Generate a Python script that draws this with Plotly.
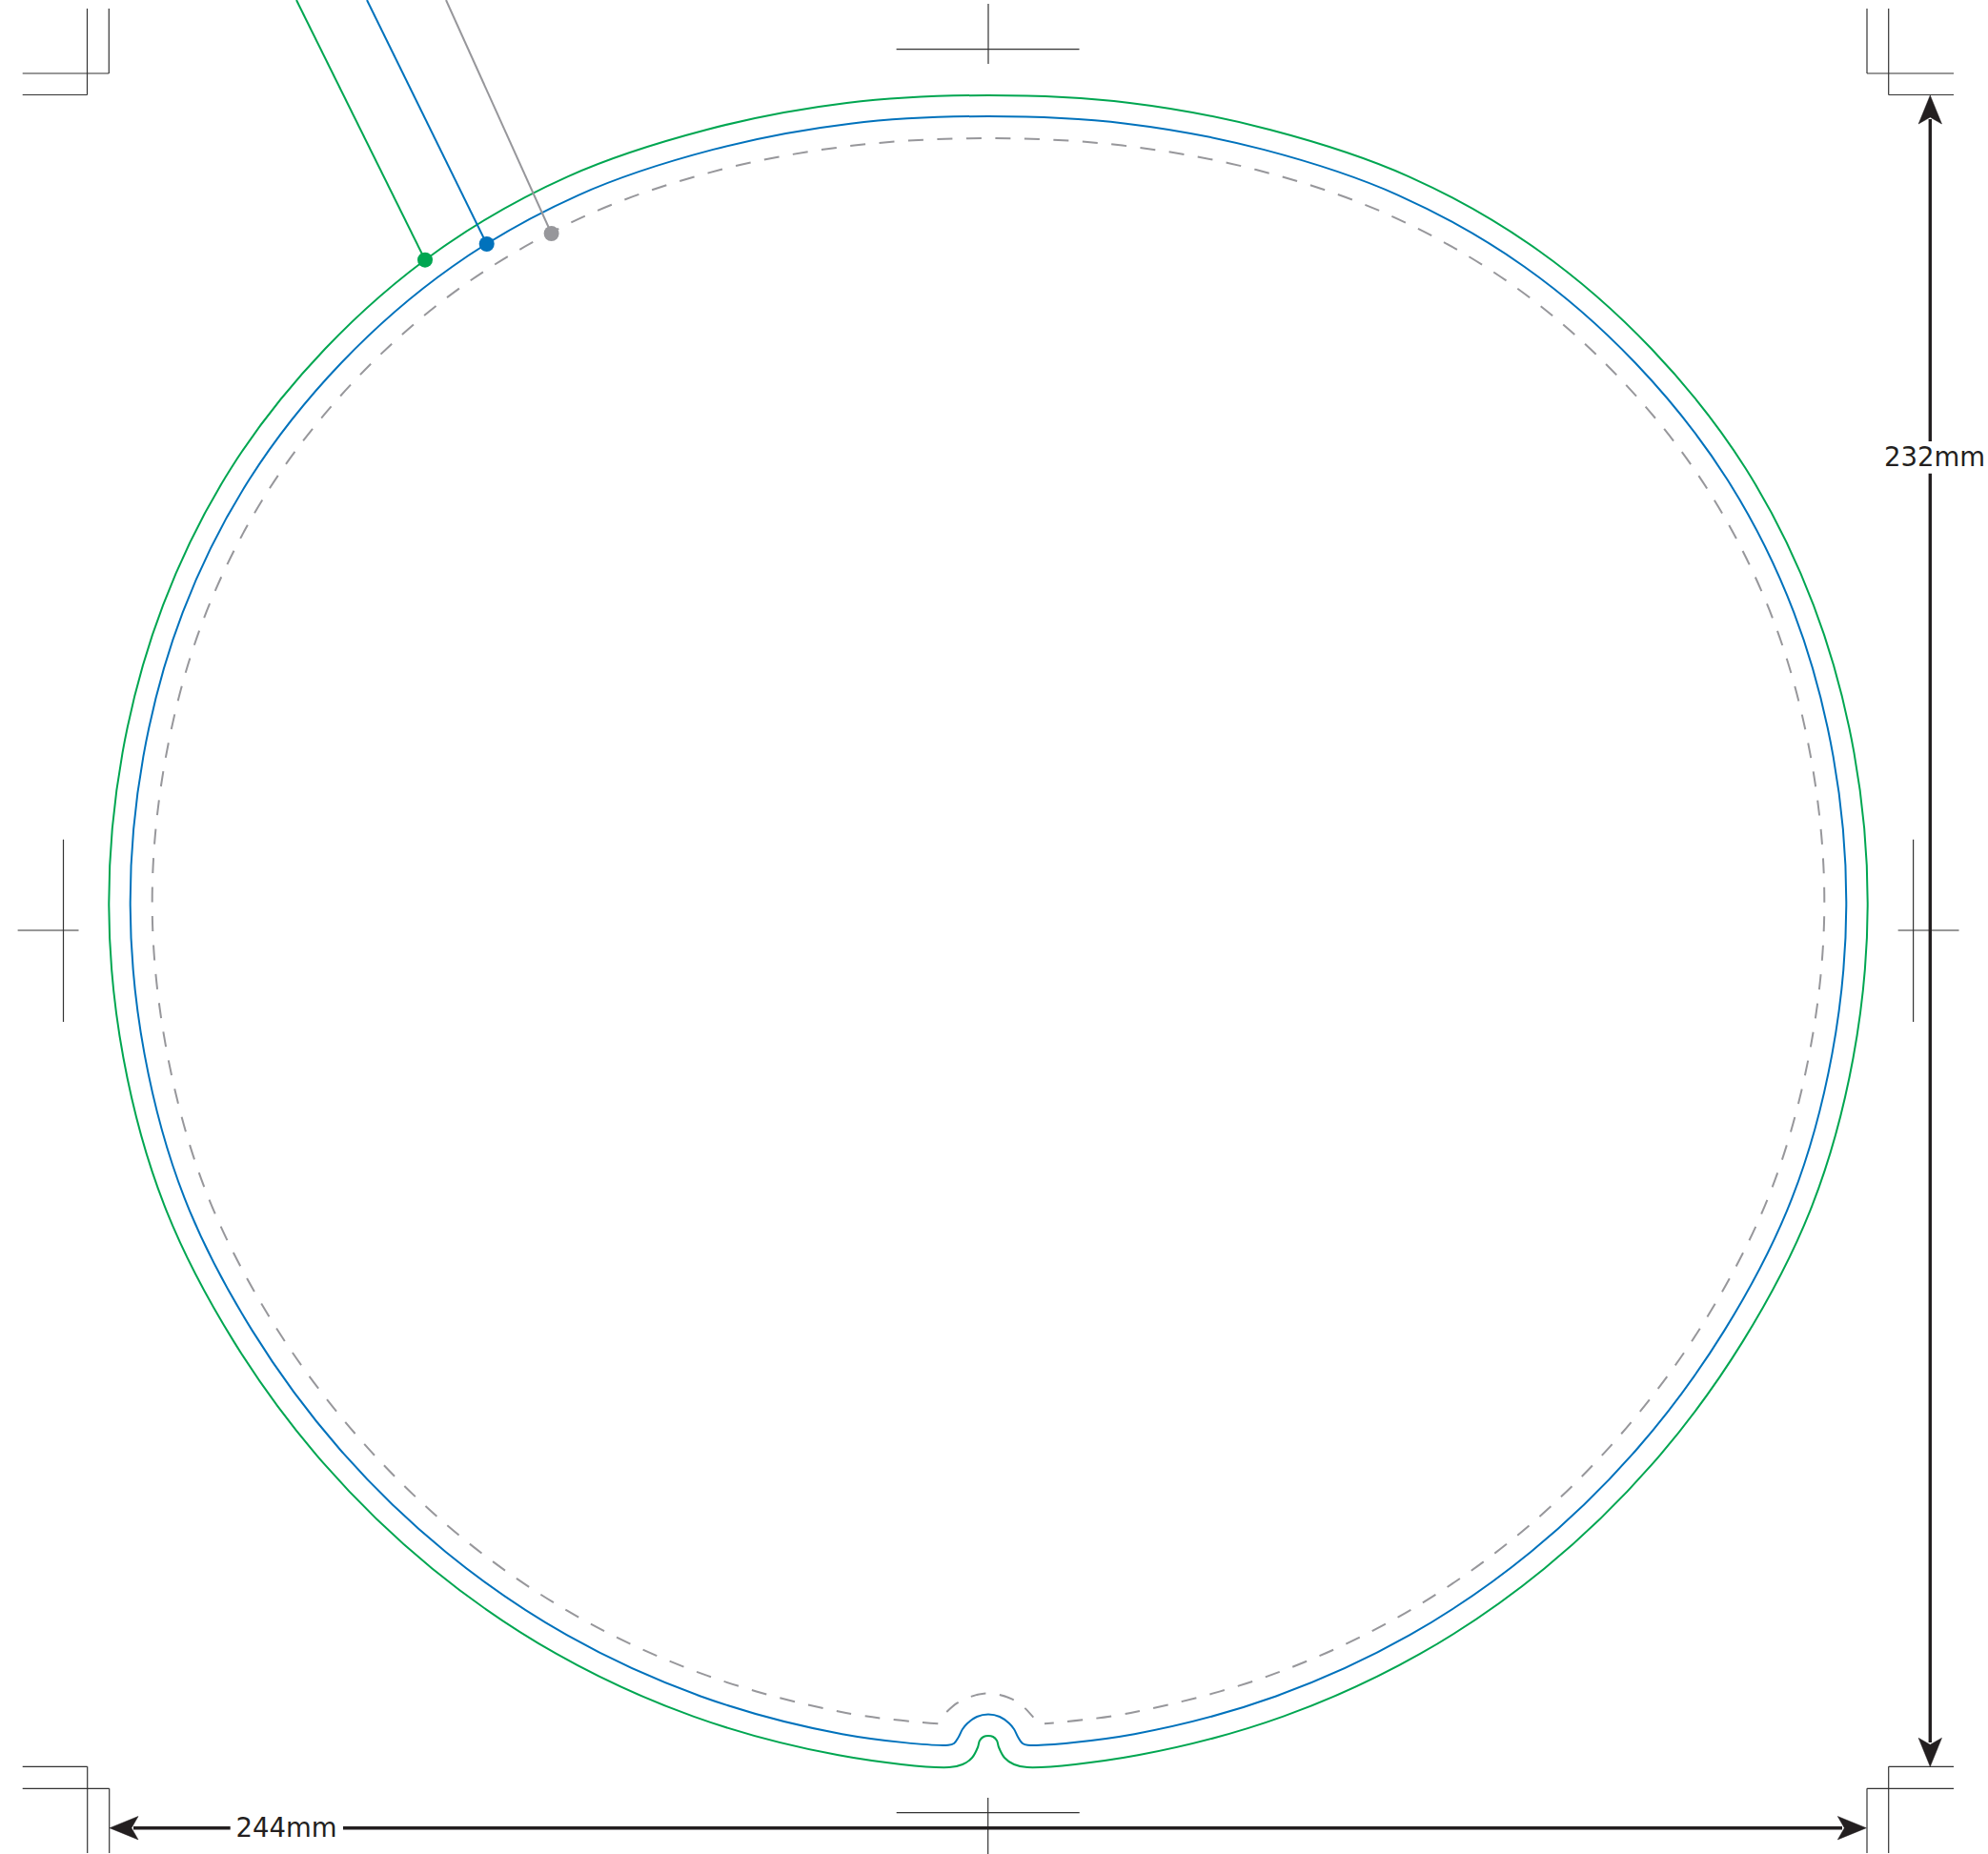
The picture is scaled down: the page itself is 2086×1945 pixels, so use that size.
import math
import plotly.graph_objects as go

# All lengths are drawing units of the sheet (1 mm = 7.555 units)
SHEET_W, SHEET_H = 2086, 1945
CENTER_X, CENTER_Y = 1037, 950

# Outlines read as radius at each bearing (degrees clockwise from the top of the disc),
# starting at the lower-left next to the notch and running clockwise round to the lower-right.
bearing_deg = [190, 200, 210, 220, 230, 240, 250, 260, 270, 280, 290, 300, 310, 320, 330, 340, 350, 360,
               370, 380, 390, 400, 410, 420, 430, 440, 450, 460, 470, 480, 490, 500, 510, 520, 530]

bleed_radius = [905.1, 905.2, 906.4, 907.9, 910.4, 914.3, 920, 921.5, 922.7,
                922.5, 921.5, 917.5, 908.5, 897.5, 883, 866, 855, 850,
                855, 866, 883, 897.5, 908.5, 917.5, 921.5, 922.5, 922.7,
                921.5, 920, 914.3, 910.4, 907.9, 906.4, 905.2, 905.1]
trim_radius = [882.6, 882.7, 883.9, 885.4, 887.9, 891.8, 897.5, 899, 900.3,
               900.3, 899.5, 895, 886, 875, 860.5, 844, 833, 828,
               833, 844, 860.5, 875, 886, 895, 899.5, 900.3, 900.3,
               899, 897.5, 891.8, 887.9, 885.4, 883.9, 882.7, 882.6]
safe_radius = [860, 860, 861.5, 863, 865, 869, 874, 875.5, 877.3,
               877, 876.5, 872, 863, 852, 837.5, 821.5, 809.7, 805,
               809.7, 821.5, 837.5, 852, 863, 872, 876.5, 877, 877.3,
               875.5, 874, 869, 865, 863, 861.5, 860, 860]

# notch at the bottom of each outline, right end to left end
bleed_notch_x = [1078, 1064, 1054, 1048, 1046, 1042, 1037, 1032, 1028, 1026, 1020, 1010, 996]
bleed_notch_y = [1854, 1851, 1844, 1833, 1826, 1822, 1821, 1822, 1826, 1833, 1844, 1851, 1854]
trim_notch_x = [1078.3, 1073, 1068, 1064, 1059, 1049, 1037, 1025, 1015, 1010, 1006, 1001, 995]
trim_notch_y = [1830.7, 1829, 1822, 1814, 1808, 1801, 1798.5, 1801, 1808, 1814, 1822, 1829, 1830.7]
safe_end_left = (984.3, 1808.3)
safe_end_right = (1096, 1808.3)
safe_notch_x = [993.3, 1004.3, 1018.3, 1032.3, 1047.7, 1062.3, 1074.3, 1084.3]
safe_notch_y = [1796, 1786.7, 1780, 1776.7, 1777.7, 1782.7, 1791, 1801.7]

# leader lines: sheet edge -> dot on each outline
leader_top_x = [311, 385, 468]
dot_x = [446, 510.7, 578.6]
dot_y = [272.7, 256, 245]

GREEN, BLUE, GRAY, INK, CROP = "#00A651", "#0072BC", "#97979B", "#231F20", "#333333"

# crop / registration marks, as (x0, y0, x1, y1)
crop_marks = [
    (91.5, 9, 91.5, 99.5), (23.7, 99.5, 91.5, 99.5), (114.3, 9, 114.3, 77), (23.7, 77, 114.3, 77),
    (1959, 9, 1959, 77), (1959, 77, 2050, 77), (1981.7, 9, 1981.7, 99.5), (1981.7, 99.5, 2050, 99.5),
    (91.7, 1853.3, 91.7, 1944), (23.7, 1853.3, 91.7, 1853.3), (114.7, 1876.3, 114.7, 1944), (23.7, 1876.3, 114.7, 1876.3),
    (1981.7, 1853.3, 1981.7, 1944), (1981.7, 1853.3, 2050, 1853.3), (1959, 1876.3, 1959, 1944), (1959, 1876.3, 2050, 1876.3),
    (1037, 4, 1037, 67), (940.6, 51.6, 1132.5, 51.6),
    (18.6, 976, 82.5, 976), (66.5, 880.7, 66.5, 1072),
    (1991.6, 976, 2055.5, 976), (2007.6, 880.7, 2007.6, 1072),
    (1036.7, 1886, 1036.7, 1945), (940.7, 1901.7, 1132.7, 1901.7),
]

# dimension lines
dim_segments = [
    (140, 1917.7, 241.7, 1917.7), (360, 1917.7, 1933, 1917.7),
    (2025.3, 125, 2025.3, 463), (2025.3, 496.7, 2025.3, 1828),
]
dim_tips = [(115, 1917.7, 1, 0), (1958.3, 1917.7, -1, 0), (2025.3, 100, 0, 1), (2025.3, 1853.3, 0, -1)]
dim_labels = ["244mm", "232mm"]
dim_label_x = [300.5, 2030]
dim_label_y = [1920, 482]

HEAD_LEN, HEAD_HALF, HEAD_NOTCH = 30, 12.2, 23


def spread(segs):
    xs, ys = [], []
    for x0, y0, x1, y1 in segs:
        xs += [x0, x1, None]
        ys += [y0, y1, None]
    return xs, ys


def to_xy(radii):
    xs = [CENTER_X + r * math.sin(math.radians(a)) for a, r in zip(bearing_deg, radii)]
    ys = [CENTER_Y - r * math.cos(math.radians(a)) for a, r in zip(bearing_deg, radii)]
    return xs, ys


fig = go.Figure()


def line(x, y, color, width, dash=None, shape="spline"):
    fig.add_trace(go.Scatter(x=x, y=y, mode="lines", hoverinfo="skip",
                             line=dict(color=color, width=width, dash=dash, shape=shape, smoothing=1.0)))


cx, cy = spread(crop_marks)
line(cx, cy, CROP, 1.2, shape="linear")

sx, sy = to_xy(safe_radius)
line([safe_end_left[0]] + sx + [safe_end_right[0]], [safe_end_left[1]] + sy + [safe_end_right[1]],
     GRAY, 2, dash="16px,14.5px")
line(safe_notch_x, safe_notch_y, GRAY, 2, dash="16px,14.5px")

tx_, ty_ = to_xy(trim_radius)
line(trim_notch_x[-1:] + tx_ + trim_notch_x, trim_notch_y[-1:] + ty_ + trim_notch_y, BLUE, 2)
bx, by = to_xy(bleed_radius)
line(bleed_notch_x[-1:] + bx + bleed_notch_x, bleed_notch_y[-1:] + by + bleed_notch_y, GREEN, 2)

for top, xd, yd, col in zip(leader_top_x, dot_x, dot_y, [GREEN, BLUE, GRAY]):
    line([top, xd], [0, yd], col, 2, shape="linear")

fig.add_trace(go.Scatter(x=dot_x, y=dot_y, mode="markers", hoverinfo="skip",
                         marker=dict(size=16, color=[GREEN, BLUE, GRAY], line=dict(width=0))))

dx, dy = spread(dim_segments)
line(dx, dy, INK, 3.4, shape="linear")

for tx, ty, ux, uy in dim_tips:
    px, py = -uy, ux
    hx = [tx, tx + ux * HEAD_LEN + px * HEAD_HALF, tx + ux * HEAD_NOTCH, tx + ux * HEAD_LEN - px * HEAD_HALF, tx]
    hy = [ty, ty + uy * HEAD_LEN + py * HEAD_HALF, ty + uy * HEAD_NOTCH, ty + uy * HEAD_LEN - py * HEAD_HALF, ty]
    fig.add_trace(go.Scatter(x=hx, y=hy, mode="lines", fill="toself", fillcolor=INK, hoverinfo="skip",
                             line=dict(color=INK, width=0.5)))

fig.add_trace(go.Scatter(x=dim_label_x, y=dim_label_y, mode="text", text=dim_labels, hoverinfo="skip",
                         textposition="middle center", cliponaxis=False,
                         textfont=dict(family="DejaVu Sans", size=27.5, color=INK)))

axis = dict(visible=False, showgrid=False, zeroline=False, fixedrange=True)
fig.update_layout(
    width=SHEET_W, height=SHEET_H, autosize=False, showlegend=False,
    margin=dict(l=0, r=0, t=0, b=0, pad=0),
    paper_bgcolor="white", plot_bgcolor="white",
    xaxis=dict(range=[0, SHEET_W], **axis),
    yaxis=dict(range=[SHEET_H, 0], **axis),
)
fig.write_html("out.html", config=dict(displayModeBar=False),
               post_script="document.body.style.margin='0';")
